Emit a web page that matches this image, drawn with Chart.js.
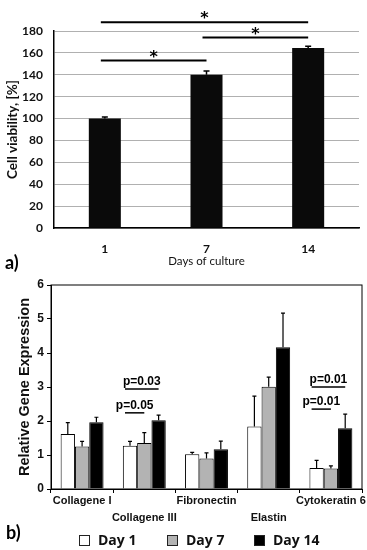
<!DOCTYPE html>
<html>
<head>
<meta charset="utf-8">
<script src="https://cdn.jsdelivr.net/npm/chart.js@4.4.0/dist/chart.umd.min.js"></script>
<style>
  body { margin: 0; background: #fff; }
  #page { position: relative; width: 367px; height: 550px; overflow: hidden; }
  canvas { position: absolute; left: 0; }
  .panel { position: absolute; font-family: Lato, sans-serif; font-weight: bold; font-size: 18px; line-height: 18px; }
  .item { position: absolute; top: 532px; font-family: "Open Sans", sans-serif; font-weight: bold; font-size: 14px; line-height: 16px; color: #111; }
  .item i { position: absolute; left: 0; top: 3px; width: 9px; height: 9px; border: 1px solid #222; }
</style>
</head>
<body>
<div id="page">
  <canvas id="viabilityChart" width="367" height="270" style="top:0"></canvas>
  <canvas id="geneChart" width="367" height="280" style="top:270px"></canvas>
  <div class="panel" style="left:5px; top:253px">a)</div>
  <div class="panel" style="left:6px; top:523px">b)</div>
  <div class="item" style="left:79px"><i style="background:#fff"></i><span style="margin-left:19px">Day 1</span></div>
  <div class="item" style="left:167px"><i style="background:#b3b3b3"></i><span style="margin-left:19px">Day 7</span></div>
  <div class="item" style="left:254px"><i style="background:#000"></i><span style="margin-left:19px">Day 14</span></div>
</div>
<script>
// a) cell viability
const days = ['1', '7', '14'];
const viability = [100, 140, 164.5];
const viabilityErr = [1.5, 3.5, 1.5];

// significance bars (from bar, to bar, height in %)
const sigFrom = [0, 1, 0];
const sigTo = [1, 2, 2];
const sigLevel = [153, 174, 188];

// b) gene expression
const genes = [['Collagene I', ''], ['', 'Collagene III'], ['Fibronectin', ''], ['', 'Elastin'], ['Cytokeratin 6', '']];
const day1 = [1.62, 1.27, 1.02, 1.84, 0.62];
const day1Err = [0.33, 0.13, 0.06, 0.89, 0.22];
const day7 = [1.25, 1.35, 0.90, 3.01, 0.60];
const day7Err = [0.15, 0.31, 0.16, 0.28, 0.08];
const day14 = [1.96, 2.02, 1.17, 4.17, 1.79];
const day14Err = [0.15, 0.15, 0.24, 1.00, 0.41];

// p-value brackets
const pCategory = [1, 1, 4, 4];
const pFrom = [0, 0, 0, 0];
const pTo = [2, 1, 2, 1];
const pLevel = [2.94, 2.24, 3.0, 2.35];
const pText = ['p=0.03', 'p=0.05', 'p=0.01', 'p=0.01'];

// draws the error bars (upper half only) of every dataset that has .errors
const errorBars = {
    id: 'errorBars',
    afterDatasetsDraw(chart, args, opts) {
        const ctx = chart.ctx;
        const y = chart.scales.y;
        chart.data.datasets.forEach((ds, i) => {
            if (!ds.errors) return;
            chart.getDatasetMeta(i).data.forEach((bar, j) => {
                const top = y.getPixelForValue(ds.data[j] + ds.errors[j]);
                ctx.save();
                ctx.strokeStyle = '#000';
                ctx.lineWidth = opts.width;
                ctx.beginPath();
                ctx.moveTo(bar.x, bar.y);
                ctx.lineTo(bar.x, top);
                ctx.moveTo(bar.x - opts.cap, top);
                ctx.lineTo(bar.x + opts.cap, top);
                ctx.stroke();
                ctx.restore();
            });
        });
    }
};

const sigStars = {
    id: 'sigStars',
    afterDraw(chart) {
        const ctx = chart.ctx;
        const bars = chart.getDatasetMeta(0).data;
        const y = chart.scales.y;
        ctx.save();
        ctx.strokeStyle = '#000';
        ctx.fillStyle = '#000';
        ctx.lineWidth = 2;
        ctx.font = 'bold 16px "DejaVu Sans"';
        ctx.textAlign = 'center';
        ctx.textBaseline = 'alphabetic';
        for (let k = 0; k < sigFrom.length; k++) {
            const x1 = bars[sigFrom[k]].x - 4;
            const x2 = bars[sigTo[k]].x;
            const yy = y.getPixelForValue(sigLevel[k]);
            ctx.beginPath();
            ctx.moveTo(x1, yy);
            ctx.lineTo(x2, yy);
            ctx.stroke();
            ctx.fillText('*', (x1 + x2) / 2, yy + 1);
        }
        ctx.restore();
    }
};

const pBrackets = {
    id: 'pBrackets',
    afterDraw(chart) {
        const ctx = chart.ctx;
        const y = chart.scales.y;
        const a = chart.chartArea;
        ctx.save();
        // frame round the plot
        ctx.strokeStyle = '#000';
        ctx.lineWidth = 1;
        ctx.strokeRect(a.left, a.top, a.right - a.left, a.bottom - a.top);
        ctx.lineWidth = 1.5;
        ctx.fillStyle = '#000';
        ctx.font = 'bold 12px "Liberation Sans"';
        ctx.textAlign = 'center';
        ctx.textBaseline = 'alphabetic';
        for (let k = 0; k < pText.length; k++) {
            const x1 = chart.getDatasetMeta(pFrom[k]).data[pCategory[k]].x - 5;
            const x2 = chart.getDatasetMeta(pTo[k]).data[pCategory[k]].x;
            const yy = y.getPixelForValue(pLevel[k]);
            ctx.beginPath();
            ctx.moveTo(x1, yy);
            ctx.lineTo(x2, yy);
            ctx.stroke();
            ctx.fillText(pText[k], (x1 + x2) / 2, yy - 4);
        }
        ctx.restore();
    }
};

new Chart(document.getElementById('viabilityChart'), {
    type: 'bar',
    data: {
        labels: days,
        datasets: [{
            data: viability,
            errors: viabilityErr,
            backgroundColor: '#0a0a0a',
            barPercentage: 0.315,
            categoryPercentage: 1
        }]
    },
    options: {
        responsive: false,
        animation: false,
        devicePixelRatio: 1,
        layout: { padding: { top: 31, right: 8, left: 0, bottom: 0 } },
        plugins: {
            legend: { display: false },
            tooltip: { enabled: false },
            errorBars: { width: 1.5, cap: 3 }
        },
        scales: {
            x: {
                afterFit(s) { s.height = 42; },
                grid: { display: false },
                border: { color: '#000', width: 1.5 },
                ticks: { color: '#111', padding: 6, font: { family: 'Lato', weight: 'bold', size: 12 } },
                title: {
                    display: true,
                    text: 'Days of culture',
                    color: '#111',
                    padding: { top: 0, bottom: 2 },
                    font: { family: 'Lato', size: 11.5 }
                }
            },
            y: {
                min: 0,
                max: 180,
                afterFit(s) { s.width = 54; },
                grid: { color: '#b0b0b0', lineWidth: 1, drawTicks: false },
                border: { color: '#000', width: 1.5 },
                ticks: { stepSize: 20, color: '#111', padding: 11, font: { family: 'Lato', weight: 'bold', size: 12 } },
                title: {
                    display: true,
                    text: 'Cell viability, [%]',
                    color: '#111',
                    padding: { top: 5, bottom: 0 },
                    font: { family: 'Lato', weight: 'bold', size: 13.5 }
                }
            }
        }
    },
    plugins: [errorBars, sigStars]
});

const barStyle = { borderColor: '#000', borderWidth: 1, barPercentage: 1, categoryPercentage: 0.69 };

new Chart(document.getElementById('geneChart'), {
    type: 'bar',
    data: {
        labels: genes,
        datasets: [
            Object.assign({ label: 'Day 1', data: day1, errors: day1Err, backgroundColor: '#fff' }, barStyle),
            Object.assign({ label: 'Day 7', data: day7, errors: day7Err, backgroundColor: '#b3b3b3' }, barStyle),
            Object.assign({ label: 'Day 14', data: day14, errors: day14Err, backgroundColor: '#000' }, barStyle)
        ]
    },
    options: {
        responsive: false,
        animation: false,
        devicePixelRatio: 1,
        layout: { padding: { top: 15, right: 5, left: 0, bottom: 0 } },
        plugins: {
            legend: { display: false },
            tooltip: { enabled: false },
            errorBars: { width: 1.2, cap: 2 }
        },
        scales: {
            x: {
                afterFit(s) { s.height = 61; },
                grid: { drawOnChartArea: false, color: '#000', tickLength: 4 },
                border: { color: '#000', width: 1 },
                ticks: {
                    color: '#111',
                    padding: -1,
                    autoSkip: false,
                    maxRotation: 0,
                    font: { family: 'Liberation Sans', weight: 'bold', size: 11, lineHeight: 1.6 }
                }
            },
            y: {
                min: 0,
                max: 6,
                afterFit(s) { s.width = 51; },
                grid: { drawOnChartArea: false, color: '#000', tickLength: 4 },
                border: { color: '#000', width: 1 },
                ticks: {
                    stepSize: 0.5,
                    color: '#111',
                    padding: 3,
                    callback: v => Number.isInteger(v) ? v : '',
                    font: { family: 'Liberation Sans', weight: 'bold', size: 12 }
                },
                title: {
                    display: true,
                    text: 'Relative Gene Expression',
                    color: '#111',
                    padding: { top: 16, bottom: 0 },
                    font: { family: 'Liberation Sans', weight: 'bold', size: 14.5 }
                }
            }
        }
    },
    plugins: [errorBars, pBrackets]
});
</script>
</body>
</html>
